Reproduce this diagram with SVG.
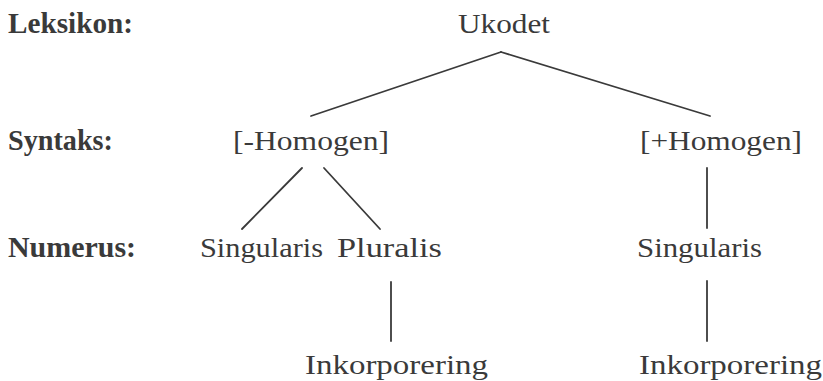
<svg xmlns="http://www.w3.org/2000/svg" width="823" height="381" viewBox="0 0 823 381">
<style>
text{font-family:"Liberation Serif","Times New Roman",serif;fill:#3a3a3a;font-size:28px}
.lbl{font-weight:bold;font-size:29px}
.edge{stroke:#3a3a3a;stroke-width:1.8;fill:none;stroke-linecap:round}
</style>
<rect width="823" height="381" fill="#fff"/>
<g id="labels">
<text class="lbl" x="8" y="33" textLength="125" lengthAdjust="spacingAndGlyphs">Leksikon:</text>
<text class="lbl" x="8" y="150" textLength="105" lengthAdjust="spacingAndGlyphs">Syntaks:</text>
<text class="lbl" x="8" y="257" textLength="128" lengthAdjust="spacingAndGlyphs">Numerus:</text>
</g>
<g id="connectors">
<line class="edge" x1="501" y1="52" x2="311" y2="116"/>
<line class="edge" x1="501" y1="52" x2="710" y2="116"/>
<line class="edge" x1="302" y1="168" x2="242" y2="229"/>
<line class="edge" x1="324" y1="168" x2="380" y2="229"/>
<line class="edge" x1="707" y1="168" x2="707" y2="228"/>
<line class="edge" x1="391" y1="282" x2="391" y2="341"/>
<line class="edge" x1="707" y1="281" x2="707" y2="341"/>
</g>
<g id="ukodet"><text x="458" y="33" textLength="92" lengthAdjust="spacingAndGlyphs">Ukodet</text></g>
<g id="minus-homogen"><text x="233" y="150" textLength="156" lengthAdjust="spacingAndGlyphs">[-Homogen]</text></g>
<g id="plus-homogen"><text x="640" y="150" textLength="162" lengthAdjust="spacingAndGlyphs">[+Homogen]</text></g>
<g id="singularis-left"><text x="200" y="257" textLength="123" lengthAdjust="spacingAndGlyphs">Singularis</text></g>
<g id="pluralis"><text x="337" y="257" textLength="105" lengthAdjust="spacingAndGlyphs">Pluralis</text></g>
<g id="singularis-right"><text x="637" y="257" textLength="125" lengthAdjust="spacingAndGlyphs">Singularis</text></g>
<g id="inkorporering-left"><text x="305" y="374" textLength="183" lengthAdjust="spacingAndGlyphs">Inkorporering</text></g>
<g id="inkorporering-right"><text x="639" y="374" textLength="183" lengthAdjust="spacingAndGlyphs">Inkorporering</text></g>
</svg>
